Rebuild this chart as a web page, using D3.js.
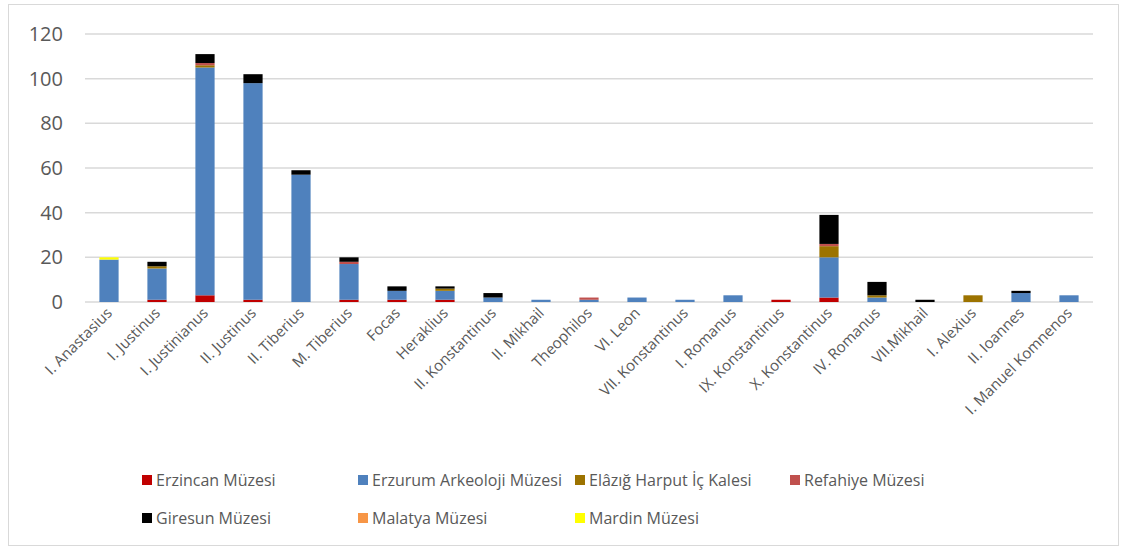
<!DOCTYPE html>
<html>
<head>
<meta charset="utf-8">
<script src="https://cdn.jsdelivr.net/npm/d3@7"></script>
<style>
  body { margin: 0; background: #fff; }
  text { font-family: "Open Sans", "Liberation Sans", sans-serif; fill: #595959; }
</style>
</head>
<body>
<div id="chart"></div>
<script>
// emperors on the x axis
const categories = ["I. Anastasius", "I. Justinus", "I. Justinianus", "II. Justinus", "II. Tiberius",
  "M. Tiberius", "Focas", "Heraklius", "II. Konstantinus", "II. Mikhail", "Theophilos", "VI. Leon",
  "VII. Konstantinus", "I. Romanus", "IX. Konstantinus", "X. Konstantinus", "IV. Romanus",
  "VII.Mikhail", "I. Alexius", "II. Ioannes", "I. Manuel Komnenos"];

// coin counts per museum
const erzincan = [0, 1, 3, 1, 0, 1, 1, 1, 0, 0, 0, 0, 0, 0, 1, 2, 0, 0, 0, 0, 0];
const erzurum  = [19, 14, 102, 97, 57, 16, 4, 4, 2, 1, 1, 2, 1, 3, 0, 18, 2, 0, 0, 4, 3];
const elazig   = [0, 1, 1, 0, 0, 0, 0, 1, 0, 0, 0, 0, 0, 0, 0, 5, 1, 0, 3, 0, 0];
const refahiye = [0, 0, 1, 0, 0, 1, 0, 0, 0, 0, 1, 0, 0, 0, 0, 1, 0, 0, 0, 0, 0];
const giresun  = [0, 2, 4, 4, 2, 2, 2, 1, 2, 0, 0, 0, 0, 0, 0, 13, 6, 1, 0, 1, 0];
const malatya  = [0, 0, 0, 0, 0, 0, 0, 0, 0, 0, 0, 0, 0, 0, 0, 0, 0, 0, 0, 0, 0];
const mardin   = [1, 0, 0, 0, 0, 0, 0, 0, 0, 0, 0, 0, 0, 0, 0, 0, 0, 0, 0, 0, 0];

const seriesNames = ["Erzincan Müzesi", "Erzurum Arkeoloji Müzesi", "Elâzığ Harput İç Kalesi",
  "Refahiye Müzesi", "Giresun Müzesi", "Malatya Müzesi", "Mardin Müzesi"];
const seriesColors = ["#C00000", "#4F81BD", "#9C7300", "#C0504D", "#000000", "#F79646", "#FFFF00"];
const yTicks = [0, 20, 40, 60, 80, 100, 120];

// build rows for d3.stack
const allSeries = [erzincan, erzurum, elazig, refahiye, giresun, malatya, mardin];
const rows = categories.map((c, i) => {
  const r = {name: c};
  seriesNames.forEach((s, j) => r[s] = allSeries[j][i]);
  return r;
});
const stacked = d3.stack().keys(seriesNames)(rows);

const W = 1122, H = 547;
const margin = {top: 34, right: 29, bottom: 245, left: 85};

const svg = d3.select("#chart").append("svg")
  .attr("width", W).attr("height", H);

// chart frame
svg.append("rect")
  .attr("x", 8.5).attr("y", 4.5)
  .attr("width", W - 12).attr("height", H - 6)
  .attr("fill", "none").attr("stroke", "#d9d9d9");

const x = d3.scaleBand()
  .domain(categories)
  .range([margin.left, W - margin.right])
  .paddingInner(0.6).paddingOuter(0.3);

const y = d3.scaleLinear()
  .domain([0, 120])
  .range([H - margin.bottom, margin.top]);

// gridlines
svg.append("g")
  .selectAll("line")
  .data(yTicks)
  .join("line")
    .attr("x1", margin.left).attr("x2", W - margin.right)
    .attr("y1", d => y(d)).attr("y2", d => y(d))
    .attr("stroke", "#d9d9d9").attr("stroke-width", 1.5);

// y labels
svg.append("g")
  .selectAll("text")
  .data(yTicks)
  .join("text")
    .attr("x", 63).attr("y", d => y(d))
    .attr("dy", "0.35em")
    .attr("text-anchor", "end")
    .style("font-size", "20px")
    .text(d => d);

// bars
svg.append("g")
  .selectAll("g")
  .data(stacked)
  .join("g")
    .attr("fill", (d, i) => seriesColors[i])
  .selectAll("rect")
  .data(d => d)
  .join("rect")
    .attr("x", d => x(d.data.name))
    .attr("width", x.bandwidth())
    .attr("y", d => y(d[1]))
    .attr("height", d => y(d[0]) - y(d[1]));

// x labels rotated
svg.append("g")
  .selectAll("text")
  .data(categories)
  .join("text")
    .attr("text-anchor", "end")
    .style("font-size", "15px")
    .attr("transform", d => `translate(${x(d) + x.bandwidth() / 2 + 4},${y(0) + 12}) rotate(-45)`)
    .text(d => d);

// legend
const legendPos = [[142, 480], [358, 480], [575, 480], [790, 480], [142, 518], [358, 518], [575, 518]];
const legend = svg.append("g")
  .selectAll("g")
  .data(seriesNames)
  .join("g")
    .attr("transform", (d, i) => `translate(${legendPos[i][0]},${legendPos[i][1]})`);
legend.append("rect")
  .attr("x", 0).attr("y", -5)
  .attr("width", 10).attr("height", 10)
  .attr("fill", (d, i) => seriesColors[i]);
legend.append("text")
  .attr("x", 14).attr("dy", "0.35em")
  .style("font-size", "16px")
  .text(d => d);
</script>
</body>
</html>
